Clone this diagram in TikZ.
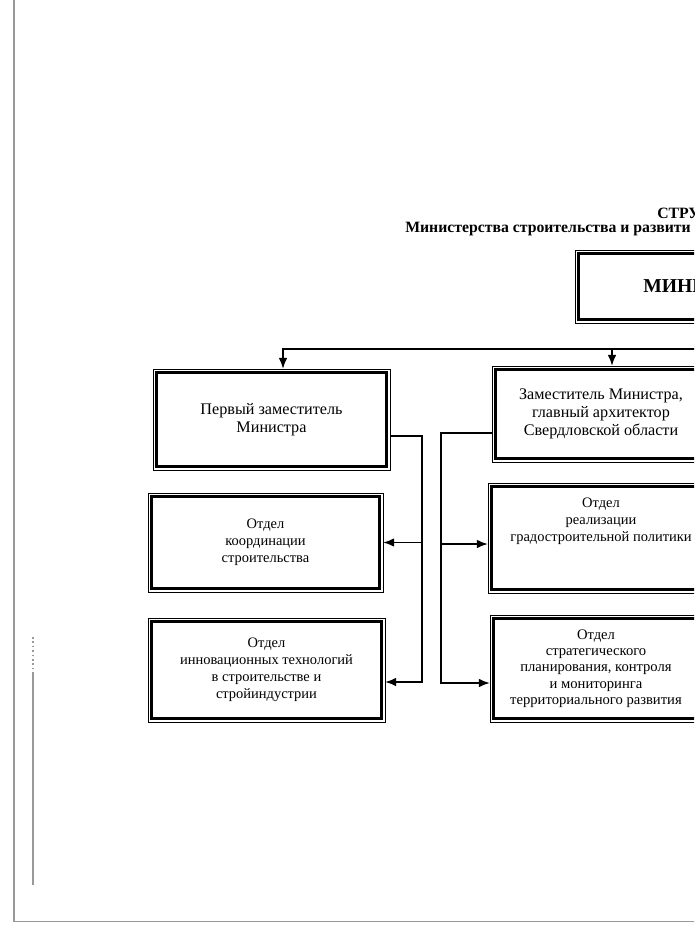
\documentclass[tikz,border=0pt]{standalone}
\usepackage{fontspec}
\setmainfont{Liberation Serif}
\usetikzlibrary{arrows.meta, positioning}

\begin{document}
\begin{tikzpicture}[x=0.25mm, y=-0.25mm]
  % Define block styles
  \tikzstyle{unit} = [draw, rectangle, line width=2.5pt, outer sep=0.875mm, inner sep=1pt, align=center, font=\fontsize{11.5}{13}\selectfont]
  \tikzstyle{dept} = [unit, font=\fontsize{10.3}{12.2}\selectfont]
  \tikzstyle{wire} = [line width=1.4pt]
  \tikzstyle{arr} = [wire, -{Latex[length=2.8mm, width=2.2mm]}]
  \tikzstyle{sheet} = [draw=black!40, line width=0.4mm]

  \useasboundingbox (0,0) rectangle (694,937);
  \clip (0,0) rectangle (694,937);

  % Sheet edges
  \draw[sheet] (14,0) -- (14,921.5) -- (700,921.5);
  \draw[sheet, dotted] (33,637) -- (33,672);
  \draw[sheet] (33,672) -- (33,885);

  % Title
  \node[anchor=base west, inner sep=0, font=\bfseries\fontsize{11.2}{12}\selectfont] at (657,218) (ttl1) {СТРУ};
  \node[anchor=base west, inner sep=0, font=\bfseries\fontsize{11.2}{12}\selectfont] at (405,232) (ttl2) {Министерства строительства и развити};

  % Nodes
  \node[unit, minimum width=85mm, minimum height=16.5mm] at (748.5,286.5) (mnstr) {};
  \node[anchor=west, inner sep=0, font=\bfseries\fontsize{14}{16}\selectfont] at (643,286) (mnlbl) {МИНИ};
  \node[unit, minimum width=57.5mm, minimum height=23.5mm] at (271.5,419.5) (first) {Первый заместитель\\Министра};
  \node[unit, minimum width=52.75mm, minimum height=22.25mm] at (601,414) (deputy) {Заместитель Министра,\\главный архитектор\\Свердловской области};
  \node[dept, minimum width=57mm, minimum height=23mm] at (265.5,542.5) (coord) {Отдел\\координации\\строительства};
  \node[dept, minimum width=54.75mm, minimum height=25.75mm] at (601,538) (urban) {Отдел\\реализации\\градостроительной политики\\[14pt]\mbox{}};
  \node[dept, minimum width=57.5mm, minimum height=24.25mm] at (266.5,670) (innov) {Отдел\\инновационных технологий\\в строительстве и\\стройиндустрии};
  \node[dept, minimum width=51.25mm, minimum height=25mm, font=\fontsize{10.4}{11.6}\selectfont] at (596,668.5) (plan) {Отдел\\стратегического\\планирования, контроля\\и мониторинга\\территориального развития};

  % thin outer frames
  \foreach \n in {mnstr, first, deputy, coord, urban, innov, plan}
    \draw[line width=0.6pt] (\n.north west) rectangle (\n.south east);

  % Connectors
  \coordinate (topL) at (283,349);
  \coordinate (topB) at (612,349);
  \coordinate (topR) at (700,349);
  \draw[arr] (topR) -- (topL) -- (topL |- first.north);
  \draw[arr] (topB) -- (topB |- deputy.north);

  \coordinate (lbus) at (422,436);
  \coordinate (lbot) at (422,682);
  \draw[arr] (first.east |- lbus) -- (lbus) -- (lbot) -- (lbot -| innov.east);
  \draw[arr] (lbus |- coord.east) -- (coord.east);

  \coordinate (rbus) at (441,433);
  \coordinate (rmid) at (441,544);
  \coordinate (rbot) at (441,683);
  \draw[arr] (deputy.west |- rbus) -- (rbus) -- (rbot) -- (rbot -| plan.west);
  \draw[arr] (rmid) -- (rmid -| urban.west);
\end{tikzpicture}
\end{document}
